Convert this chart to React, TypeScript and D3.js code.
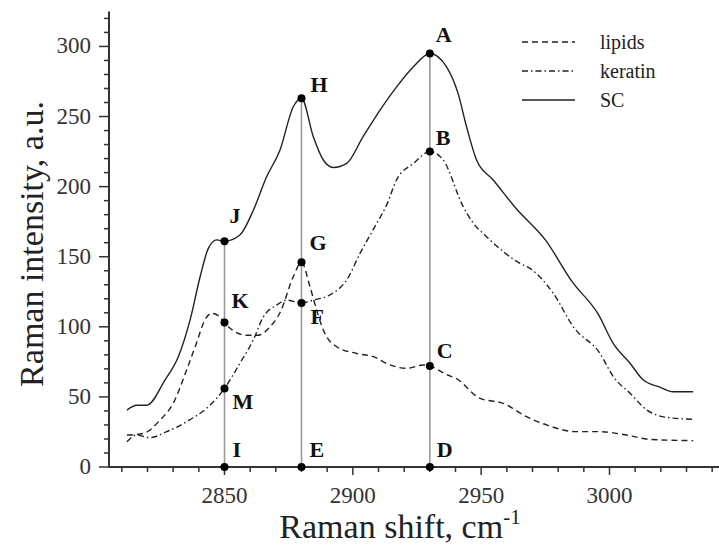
import * as d3 from "d3";
import React, { useRef, useEffect } from "react";

const WIDTH = 719;
const HEIGHT = 548;

// [Raman shift, intensity]
const scSeries = [
	[2812, 40.6], [2815.8, 44], [2819.7, 44], [2826.8, 62], [2832, 78.7], [2836.6, 105], [2840.5, 135.7],
	[2843.7, 156], [2847, 162], [2850, 161], [2856, 165.5], [2861.2, 183], [2866.4, 207], [2871.6, 226],
	[2876.8, 257], [2880, 263], [2884.6, 235.6], [2888.5, 219], [2892.4, 213.7], [2897.6, 216.6], [2904, 235.6],
	[2910.6, 254.6], [2917, 271], [2923.6, 285.5], [2930, 295], [2936.5, 285.5], [2941, 266.5], [2944.3, 242.7],
	[2948.2, 219], [2954.7, 204.7], [2963.8, 184], [2975, 162], [2985.5, 132], [2995.6, 109], [3001.5, 88],
	[3008, 74], [3013.2, 62], [3019.6, 57], [3024.8, 53.7], [3032.6, 53.7],
];

const lipidsSeries = [
	[2812, 22.8], [2818.4, 24], [2824.9, 33.5], [2830, 45.4], [2835.2, 69], [2839, 88], [2842.4, 105],
	[2845, 109.6], [2848.2, 107], [2850, 103], [2854.7, 95.8], [2858.6, 94], [2863.2, 94], [2867.7, 100],
	[2871.6, 110], [2876.8, 135.7], [2880, 146], [2883.3, 128.6], [2885.9, 112], [2888.5, 97.7], [2893.7, 85.8],
	[2901.5, 81], [2908, 78.7], [2914.5, 72.8], [2921, 70.4], [2927.4, 72.8], [2930, 72], [2936.5, 66],
	[2940.4, 63], [2949.5, 49], [2958.6, 45.4], [2967.7, 35.9], [2975.5, 30], [2987.2, 25.2], [2996.3, 25.2],
	[3006.6, 22.8], [3015.7, 19.7], [3032.6, 18.8],
];

const keratinSeries = [
	[2812, 18], [2815.8, 22.8], [2821, 21], [2827.5, 25.2], [2835.2, 32.3], [2843, 41.9], [2850, 56],
	[2856, 74], [2861.2, 90.6], [2865.1, 107], [2870.3, 115.5], [2874.2, 119], [2880, 117], [2884.6, 119],
	[2891, 122.7], [2897.6, 133.4], [2902.8, 152.4], [2909.3, 173.8], [2913.2, 187], [2917, 204.7],
	[2923.6, 216.6], [2930, 225], [2935.2, 219], [2943, 185.7], [2947, 173.8], [2952.1, 164.3], [2965.1, 145.3],
	[2969, 141.7], [2978.1, 123.9], [2985.9, 100], [2996.3, 81], [3001.5, 64.4], [3008, 52.6], [3014.5, 40.7],
	[3022.3, 35.4], [3032.6, 34],
];

const guideShifts = [2850, 2880, 2930];

// label, shift, intensity, label offset dx, dy (baseline)
const markedPoints = [
	["A", 2930, 295, 6, -11],
	["B", 2930, 225, 6, -7],
	["C", 2930, 72, 7, -8],
	["D", 2930, 0, 7, -10],
	["H", 2880, 263, 9, -6],
	["G", 2880, 146, 8, -12],
	["F", 2880, 117, 9, 21],
	["E", 2880, 0, 8, -10],
	["J", 2850, 161, 5, -18],
	["K", 2850, 103, 7, -15],
	["M", 2850, 56, 8, 21],
	["I", 2850, 0, 8, -10],
];

const xTicks = [2850, 2900, 2950, 3000];
const yTicks = [0, 50, 100, 150, 200, 250, 300];

const legendItems = [
	["lipids", "6,4"],
	["keratin", "6,3,1.5,3"],
	["SC", null],
];

const Chart = () => {
	const svgRef = useRef();

	useEffect(() => {
		const svg = d3.select(svgRef.current);
		svg.selectAll("*").remove();

		const x = d3.scaleLinear().domain([2805, 3045]).range([109, 725]);
		const y = d3.scaleLinear().domain([0, 325]).range([467, 11.4]);
		const font = "'Liberation Serif', 'Times New Roman', serif";
		const ink = "#222";

		// axes with minor ticks
		const axisColor = "#333";
		svg.append("line").attr("x1", 109).attr("x2", 109).attr("y1", y(325)).attr("y2", y(0))
			.attr("stroke", axisColor).attr("stroke-width", 2);
		svg.append("line").attr("x1", 108).attr("x2", 725).attr("y1", y(0)).attr("y2", y(0))
			.attr("stroke", axisColor).attr("stroke-width", 2);

		const yMinor = d3.range(0, 321, 10);
		svg.append("g").selectAll("line").data(yMinor).join("line")
			.attr("x1", (d) => (d % 50 === 0 ? 99 : 104)).attr("x2", 109)
			.attr("y1", (d) => y(d)).attr("y2", (d) => y(d))
			.attr("stroke", axisColor).attr("stroke-width", 1.5);

		const xMinor = d3.range(2810, 3041, 10);
		svg.append("g").selectAll("line").data(xMinor).join("line")
			.attr("x1", (d) => x(d)).attr("x2", (d) => x(d))
			.attr("y1", y(0)).attr("y2", (d) => y(0) + (d % 50 === 0 ? 8 : 5))
			.attr("stroke", axisColor).attr("stroke-width", 1.5);

		svg.append("g").selectAll("text").data(yTicks).join("text")
			.attr("x", 91).attr("y", (d) => y(d) + 7)
			.attr("text-anchor", "end").attr("font-family", font).attr("font-size", 23).attr("fill", "#333")
			.text((d) => d);

		svg.append("g").selectAll("text").data(xTicks).join("text")
			.attr("x", (d) => x(d)).attr("y", 503)
			.attr("text-anchor", "middle").attr("font-family", font).attr("font-size", 23).attr("fill", "#333")
			.text((d) => d);

		// axis titles
		svg.append("text")
			.attr("transform", `translate(43,${244}) rotate(-90)`)
			.attr("text-anchor", "middle").attr("font-family", font).attr("font-size", 34).attr("fill", "#222")
			.text("Raman intensity, a.u.");

		const xt = svg.append("text")
			.attr("x", 400).attr("y", 538)
			.attr("text-anchor", "middle").attr("font-family", font).attr("font-size", 34).attr("fill", "#222");
		xt.append("tspan").text("Raman shift, cm");
		xt.append("tspan").attr("font-size", 21).attr("dy", -14).text("-1");

		// guide lines
		svg.append("g").selectAll("line").data(guideShifts).join("line")
			.attr("x1", (d) => x(d)).attr("x2", (d) => x(d))
			.attr("y1", y(0)).attr("y2", (d) => y(d3.max(markedPoints.filter((p) => p[1] === d), (p) => p[2])))
			.attr("stroke", "#999").attr("stroke-width", 1.6);

		// curves
		const line = d3.line().x((d) => x(d[0])).y((d) => y(d[1])).curve(d3.curveMonotoneX);
		svg.append("path").datum(lipidsSeries).attr("d", line).attr("fill", "none")
			.attr("stroke", ink).attr("stroke-width", 1.4).attr("stroke-dasharray", "6,4");
		svg.append("path").datum(keratinSeries).attr("d", line).attr("fill", "none")
			.attr("stroke", ink).attr("stroke-width", 1.4).attr("stroke-dasharray", "6,3,1.5,3");
		svg.append("path").datum(scSeries).attr("d", line).attr("fill", "none")
			.attr("stroke", ink).attr("stroke-width", 1.4);

		// marked points
		svg.append("g").selectAll("circle").data(markedPoints).join("circle")
			.attr("cx", (d) => x(d[1])).attr("cy", (d) => y(d[2])).attr("r", 4).attr("fill", "#000");
		svg.append("g").selectAll("text").data(markedPoints).join("text")
			.attr("x", (d) => x(d[1]) + d[3]).attr("y", (d) => y(d[2]) + d[4])
			.attr("font-family", font).attr("font-weight", "bold").attr("font-size", 22).attr("fill", "#111")
			.text((d) => d[0]);

		// legend
		const lg = svg.append("g").selectAll("g").data(legendItems).join("g")
			.attr("transform", (d, i) => `translate(0,${42 + i * 29})`);
		lg.append("line").attr("x1", 522).attr("x2", 575).attr("y1", 0).attr("y2", 0)
			.attr("stroke", ink).attr("stroke-width", 1.4)
			.attr("stroke-dasharray", (d) => d[1]);
		lg.append("text").attr("x", 600).attr("y", 7)
			.attr("font-family", font).attr("font-size", 20).attr("fill", "#222")
			.text((d) => d[0]);
	}, []);

	return <svg ref={svgRef} width={WIDTH} height={HEIGHT} viewBox={`0 0 ${WIDTH} ${HEIGHT}`} style={{ position: "absolute", left: 0, top: 0, background: "#fff" }} />;
};

export default function App() {
	return <Chart />;
}
